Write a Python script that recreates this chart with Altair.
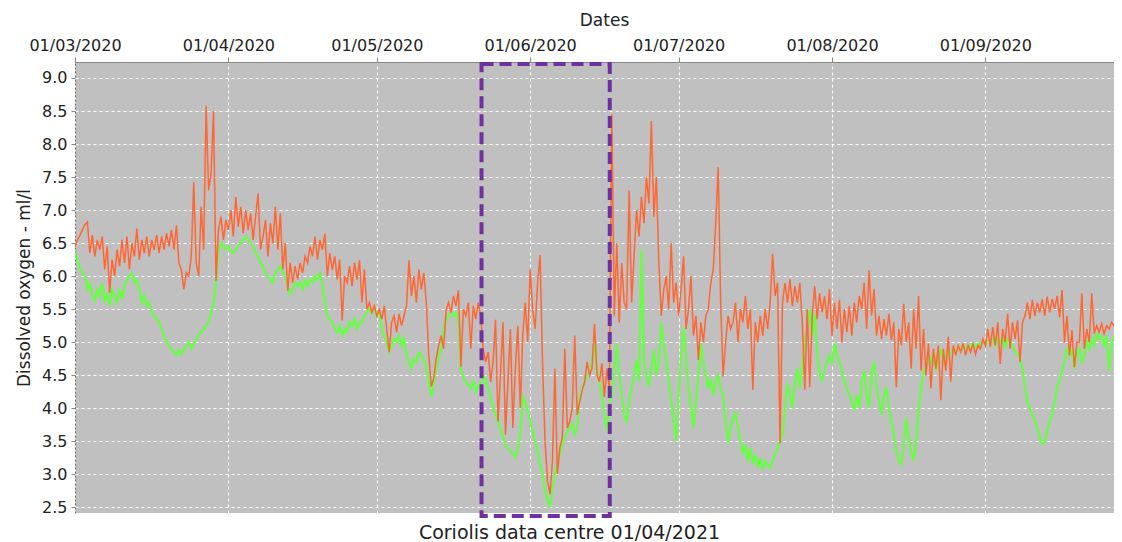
import altair as alt
import pandas as pd

# ---- data (half-day samples starting 01/03/2020) ----
start_date = "2020-03-01"
step_hours = 12

orange_vals = [
    6.44, 6.55, 6.62, 6.70, 6.78, 6.82, 6.35, 6.62, 6.30, 6.55,
    6.40, 6.60, 6.10, 6.45, 5.75, 6.25, 6.00, 6.40, 6.15, 6.55,
    6.20, 6.60, 6.10, 6.50, 6.30, 6.72, 6.25, 6.55, 6.35, 6.60,
    6.30, 6.55, 6.40, 6.62, 6.35, 6.60, 6.40, 6.65, 6.45, 6.70,
    6.40, 6.77, 6.20, 6.10, 5.80, 6.05, 6.00, 6.30, 7.42, 6.20,
    6.00, 7.05, 6.40, 8.58, 7.30, 7.55, 8.50, 5.93, 6.70, 6.90,
    6.55, 6.85, 6.70, 7.00, 6.60, 7.20, 6.75, 7.05, 6.65, 7.00,
    6.70, 6.95, 6.55, 6.90, 7.25, 6.40, 6.60, 6.85, 6.30, 6.80,
    6.50, 7.05, 6.40, 6.95, 6.10, 6.50, 5.78, 6.20, 5.90, 6.15,
    5.95, 6.20, 6.05, 6.30, 6.20, 6.45, 6.30, 6.60, 6.25, 6.55,
    6.40, 6.64, 6.00, 6.35, 6.10, 6.30, 5.95, 6.25, 5.33, 6.00,
    5.90, 6.15, 5.85, 6.20, 5.95, 6.24, 5.60, 6.10, 5.50, 5.60,
    5.45, 5.55, 5.40, 5.50, 5.35, 5.55, 5.20, 4.85, 5.30, 5.40,
    5.15, 5.43, 5.25, 5.40, 5.55, 6.24, 5.70, 6.00, 5.60, 6.10,
    5.80, 6.05, 5.60, 4.80, 4.33, 4.45, 4.75, 4.95, 5.10, 4.90,
    5.48, 5.60, 5.45, 5.70, 5.55, 5.79, 4.63, 5.50, 5.40, 5.60,
    4.90, 5.55, 5.35, 5.60, 5.40, 4.90, 4.70, 4.85, 4.40, 4.70,
    5.34, 3.80, 4.50, 5.30, 3.60, 4.40, 5.20, 3.70, 4.60, 5.25,
    4.00, 5.10, 5.60, 5.00, 6.10, 5.50, 5.20, 5.90, 6.32, 4.68,
    3.50, 2.90, 2.70, 3.20, 4.60, 3.00, 3.40, 3.56, 4.90, 3.70,
    3.80, 4.00, 5.10, 3.90, 4.10, 4.27, 4.40, 4.70, 4.50, 4.60,
    5.28, 4.50, 4.40, 4.68, 4.17, 4.60, 4.30, 8.45, 5.40, 6.50,
    5.30, 6.20, 5.60, 5.50, 7.30, 5.60, 6.30, 7.00, 6.60, 7.20,
    6.80, 7.50, 7.10, 8.35, 6.90, 7.50, 6.20, 5.40, 5.80, 6.00,
    5.50, 6.50, 5.60, 5.90, 5.40, 5.80, 6.30, 5.20, 5.50, 6.00,
    5.10, 5.40, 4.73, 5.30, 5.00, 5.40, 5.50, 5.90, 6.10, 6.80,
    7.65, 5.60, 4.48, 5.00, 5.40, 5.20, 5.30, 5.60, 5.00, 5.50,
    5.30, 5.70, 5.20, 5.50, 4.28, 5.30, 5.00, 5.40, 5.10, 5.50,
    5.20, 5.60, 6.34, 5.70, 5.90, 3.47, 5.60, 5.90, 5.60, 5.95,
    5.55, 5.85, 5.60, 5.90, 5.30, 4.28, 5.50, 4.32, 5.40, 5.85,
    5.35, 5.74, 5.45, 5.70, 5.35, 5.80, 5.10, 5.60, 5.20, 5.64,
    5.00, 5.50, 5.15, 5.55, 5.10, 5.60, 5.30, 5.70, 5.50, 5.90,
    5.20, 6.09, 5.40, 5.80, 5.10, 5.40, 5.05, 5.35, 5.10, 5.43,
    5.03, 5.30, 4.32, 5.20, 4.95, 5.58, 5.00, 5.30, 4.60, 5.50,
    4.90, 5.70, 4.57, 5.20, 4.50, 4.98, 4.30, 4.90, 4.60, 4.95,
    4.12, 4.90, 4.57, 5.08, 4.40, 4.95, 4.80, 4.95, 4.85, 4.98,
    4.80, 4.95, 4.85, 4.97, 4.82, 4.95, 4.90, 5.05, 4.95, 5.20,
    4.93, 5.23, 4.95, 5.30, 4.67, 5.20, 5.00, 5.43, 4.90, 5.30,
    5.05, 5.33, 4.70, 5.30, 5.40, 5.60, 5.35, 5.64, 5.40, 5.60,
    5.45, 5.65, 5.40, 5.69, 5.45, 5.65, 5.50, 5.70, 5.38, 5.79,
    5.00, 5.40, 4.80, 5.18, 4.62, 5.00, 5.00, 5.74, 4.90, 5.20,
    5.00, 5.74, 5.13, 5.25, 5.15, 5.28, 5.13, 5.25, 5.20, 5.30,
    5.25, 5.40, 5.30, 5.48,
]

green_vals = [
    6.36, 6.25, 6.10, 6.05, 6.00, 5.80, 5.90, 5.70, 5.63, 5.80,
    5.70, 5.90, 5.60, 5.75, 5.55, 5.80, 5.70, 5.60, 5.80, 5.65,
    5.85, 5.95, 6.00, 6.04, 5.90, 5.95, 5.80, 5.60, 5.70, 5.55,
    5.60, 5.45, 5.40, 5.35, 5.30, 5.20, 5.10, 5.00, 4.95, 4.90,
    4.85, 4.80, 4.88, 4.82, 4.90, 4.95, 5.00, 4.90, 4.95, 5.05,
    5.10, 5.15, 5.20, 5.25, 5.30, 5.45, 5.58, 5.90, 6.40, 6.50,
    6.45, 6.40, 6.45, 6.38, 6.35, 6.40, 6.45, 6.50, 6.55, 6.60,
    6.55, 6.50, 6.45, 6.35, 6.30, 6.20, 6.15, 6.05, 6.00, 5.95,
    5.90, 6.05, 6.10, 6.15, 6.05, 6.00, 5.85, 5.73, 5.80, 5.90,
    5.85, 5.90, 5.80, 5.94, 5.85, 5.95, 5.90, 6.00, 5.95, 6.04,
    5.90, 5.60, 5.40, 5.35, 5.30, 5.20, 5.15, 5.25, 5.10, 5.20,
    5.15, 5.30, 5.25, 5.35, 5.20, 5.30, 5.30, 5.40, 5.45, 5.50,
    5.45, 5.50, 5.40, 5.45, 5.20, 5.10, 5.00, 4.85, 4.95, 5.05,
    5.00, 5.10, 4.95, 5.05, 4.80, 4.70, 4.60, 4.75, 4.70, 4.85,
    4.80, 4.75, 4.60, 4.40, 4.18, 4.35, 4.60, 4.75, 4.90, 5.20,
    5.33, 5.40, 5.45, 5.40, 5.45, 5.30, 4.60, 4.45, 4.40, 4.35,
    4.30, 4.40, 4.25, 4.35, 4.30, 4.50, 4.45, 4.30, 4.17, 4.00,
    3.90, 3.80, 3.70, 3.55, 3.45, 3.40, 3.35, 3.30, 3.26, 3.40,
    3.60, 4.17, 4.10, 3.95, 3.80, 3.65, 3.50, 3.35, 3.16, 3.00,
    2.75, 2.60, 2.50, 2.80, 3.00, 3.20, 3.30, 3.46, 3.56, 3.65,
    3.70, 3.77, 3.60, 3.70, 4.17, 4.30, 4.40, 4.50, 4.55, 4.68,
    5.03, 4.60, 4.40, 4.20, 3.90, 3.66, 4.00, 4.20, 4.60, 4.98,
    4.50, 4.20, 3.90, 3.78, 4.10, 4.30, 4.50, 4.73, 4.40, 6.40,
    4.70, 4.50, 4.33, 4.60, 4.88, 4.50, 4.70, 5.30, 5.00, 4.70,
    4.40, 4.10, 3.80, 3.50, 4.20, 4.80, 5.23, 4.80, 4.30, 4.00,
    3.70, 4.10, 4.50, 4.98, 4.70, 4.50, 4.30, 4.45, 4.20, 4.40,
    4.50, 4.30, 4.20, 3.80, 3.47, 3.70, 3.85, 3.93, 3.70, 3.50,
    3.30, 3.45, 3.20, 3.40, 3.15, 3.30, 3.10, 3.25, 3.07, 3.20,
    3.15, 3.10, 3.20, 3.30, 3.40, 3.50, 3.60, 4.00, 4.38, 4.20,
    4.00, 4.40, 4.60, 4.30, 4.70, 5.00, 5.20, 5.50, 5.08, 5.43,
    4.83, 4.50, 4.42, 4.60, 4.70, 4.80, 4.67, 4.98, 4.80, 4.70,
    4.57, 4.40, 4.30, 4.20, 4.10, 3.97, 4.20, 4.00, 4.40, 4.57,
    4.20, 4.00, 4.57, 4.70, 4.30, 4.10, 3.90, 4.20, 4.32, 4.00,
    3.80, 3.60, 3.36, 3.20, 3.15, 3.40, 3.86, 3.56, 3.36, 3.20,
    3.50, 4.00, 4.30, 4.57, 4.60, 4.75, 4.70, 4.85, 4.57, 4.80,
    4.88, 4.70, 4.80, 4.85, 4.83, 4.90, 4.85, 4.93, 4.88, 4.95,
    4.90, 4.95, 4.92, 4.98, 4.93, 4.98, 4.95, 5.00, 4.98, 5.02,
    5.00, 5.05, 4.95, 5.08, 5.00, 5.05, 4.90, 5.05, 5.00, 4.95,
    4.85, 4.80, 4.75, 4.60, 4.32, 4.10, 4.00, 3.90, 3.81, 3.70,
    3.55, 3.46, 3.50, 3.65, 3.81, 3.90, 4.10, 4.32, 4.40, 4.57,
    4.70, 4.93, 4.80, 4.90, 4.60, 4.80, 4.93, 4.70, 4.80, 5.00,
    4.90, 5.05, 4.95, 5.13, 5.05, 5.10, 4.93, 5.10, 4.57, 5.00,
    5.08, 5.05, 5.05, 5.08,
]

# highlighted window
box_start = ["2020-05-22T04:00:00"]
box_end = ["2020-06-17T02:00:00"]
box_top = [9.21]
box_bottom = [2.37]

y_ticks = [2.5, 3.0, 3.5, 4.0, 4.5, 5.0, 5.5, 6.0, 6.5, 7.0, 7.5, 8.0, 8.5, 9.0]
month_ticks = [3, 4, 5, 6, 7, 8, 9]


def frame(vals):
    t = pd.Timestamp(start_date) + pd.to_timedelta(
        [i * step_hours for i in range(len(vals))], unit="h")
    return pd.DataFrame({"date": t.strftime("%Y-%m-%dT%H:%M:%S"), "value": vals})


orange_df = frame(orange_vals)
green_df = frame(green_vals)
box_df = pd.DataFrame({"date": box_start, "date2": box_end,
                       "value": box_top, "value2": box_bottom})

FONT = "DejaVu Sans"
TXT = "#222222"

x_scale = alt.Scale(domain=[alt.DateTime(year=2020, month=3, date=1),
                            alt.DateTime(year=2020, month=9, date=27)])
y_scale = alt.Scale(domain=[2.414, 9.242], nice=False, zero=False)

x_axis = alt.Axis(
    orient="top", format="%d/%m/%Y",
    values=[alt.DateTime(year=2020, month=m, date=1) for m in month_ticks],
    title="Dates", titleFont=FONT, titleFontSize=17, titleFontWeight="normal",
    titleColor=TXT, titlePadding=8, titleX=529,
    labelFont=FONT, labelFontSize=16, labelColor=TXT, labelAngle=0,
    labelPadding=4, labelFlush=False, labelOverlap=False, labelBound=False,
    tickSize=5, tickColor="#888888", domainColor="#888888",
    gridColor="white", gridDash=[3, 3], gridOpacity=1, gridWidth=1,
)
y_axis = alt.Axis(
    values=y_ticks, format=".1f",
    title="Dissolved oxygen - ml/l", titleFont=FONT, titleFontSize=17,
    titleFontWeight="normal", titleColor=TXT, titlePadding=8,
    labelFont=FONT, labelFontSize=16, labelColor=TXT, labelPadding=4,
    tickSize=4, tickColor="#888888",
    domainColor="#666666", domainDash=[2, 2],
    gridColor="white", gridDash=[3, 3], gridOpacity=1, gridWidth=1,
)

x_enc = alt.X("date:T", scale=x_scale, axis=x_axis)
y_enc = alt.Y("value:Q", scale=y_scale, axis=y_axis)

green = alt.Chart(green_df).mark_line(
    color="#66FF44", strokeWidth=2.2, clip=True
).encode(x=x_enc, y=y_enc)

orange = alt.Chart(orange_df).mark_line(
    color="#FF6633", strokeWidth=1.5, clip=True
).encode(x=x_enc, y=y_enc)

box = alt.Chart(box_df).mark_rect(
    filled=False, stroke="#7030A0", strokeWidth=4, strokeDash=[12, 6]
).encode(x=x_enc, x2="date2:T", y=y_enc, y2="value2:Q")

chart = alt.layer(green, orange, box).properties(
    width=1039, height=451,
    background="white",
    autosize=alt.AutoSizeParams(type="none"),
    padding={"left": 67, "top": 54, "right": 0, "bottom": 29},
    title=alt.TitleParams(
        "Coriolis data centre 01/04/2021", orient="bottom", anchor="middle",
        font=FONT, fontSize=19, fontWeight="normal", color=TXT,
        offset=6, dx=-25,
    ),
).configure_view(fill="#C0C0C0", stroke=None)

chart.save("out.html", embed_options={"renderer": "svg", "actions": False})
